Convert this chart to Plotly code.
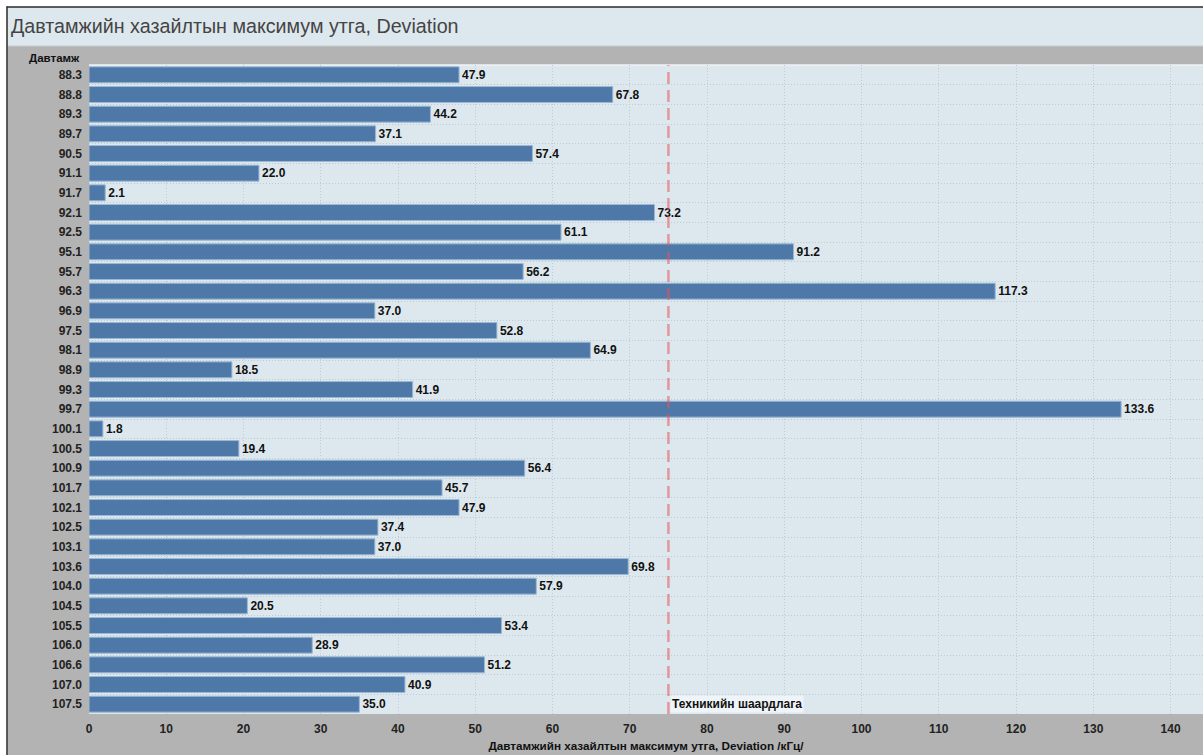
import plotly.graph_objects as go

freqs = ["88.3", "88.8", "89.3", "89.7", "90.5", "91.1", "91.7", "92.1", "92.5", "95.1",
         "95.7", "96.3", "96.9", "97.5", "98.1", "98.9", "99.3", "99.7", "100.1", "100.5",
         "100.9", "101.7", "102.1", "102.5", "103.1", "103.6", "104.0", "104.5", "105.5",
         "106.0", "106.6", "107.0", "107.5"]
deviation = [47.9, 67.8, 44.2, 37.1, 57.4, 22.0, 2.1, 73.2, 61.1, 91.2,
             56.2, 117.3, 37.0, 52.8, 64.9, 18.5, 41.9, 133.6, 1.8, 19.4,
             56.4, 45.7, 47.9, 37.4, 37.0, 69.8, 57.9, 20.5, 53.4,
             28.9, 51.2, 40.9, 35.0]
limit_value = 75
limit_label = "Техникийн шаардлага"
title_text = "Давтамжийн хазайлтын максимум утга, Deviation"
y_title = "Давтамж"
x_title = "Давтамжийн хазайлтын максимум утга, Deviation /кГц/"
x_ticks = list(range(0, 141, 10))

W, H = 1203, 755
L, R, T, B = 89, 0, 65, 41
pw, ph = W - L - R, H - T - B

def px_x(x):
    return (x - L) / pw

def px_y(y):
    return (H - B - y) / ph

FONT = "Liberation Sans, Arial, sans-serif"
GRID = "#c2cad0"

fig = go.Figure()
fig.add_trace(go.Bar(
    y=freqs, x=deviation, orientation="h",
    marker=dict(color="#4e78a8", line=dict(color="#9ab8d6", width=1)),
    texttemplate="%{x:.1f}", textposition="outside",
    textfont=dict(family=FONT, size=12, color="#111", weight="bold"),
    cliponaxis=False, hoverinfo="skip",
))

shapes = [
    # white outer margin strips
    dict(type="rect", xref="paper", yref="paper", x0=px_x(0), x1=px_x(W), y0=px_y(6.5), y1=px_y(0),
         fillcolor="white", line_width=0, layer="below"),
    dict(type="rect", xref="paper", yref="paper", x0=px_x(0), x1=px_x(6.5), y0=px_y(H), y1=px_y(0),
         fillcolor="white", line_width=0, layer="below"),
    # title band
    dict(type="rect", xref="paper", yref="paper", x0=px_x(7.5), x1=px_x(W), y0=px_y(46), y1=px_y(7.5),
         fillcolor="#dde8ee", line_width=0, layer="below"),
    dict(type="line", xref="paper", yref="paper", x0=px_x(7.5), x1=px_x(W), y0=px_y(46), y1=px_y(46),
         line=dict(color="#c6ccd0", width=1), layer="below"),
    # plot top light edge
    dict(type="line", xref="paper", yref="paper", x0=0, x1=1, y0=1, y1=1,
         line=dict(color="#eef3f6", width=1.5), layer="below"),
    # frame lines
    dict(type="line", xref="paper", yref="paper", x0=px_x(6.5), x1=px_x(W), y0=px_y(7), y1=px_y(7),
         line=dict(color="#333", width=1.5), layer="above"),
    dict(type="line", xref="paper", yref="paper", x0=px_x(7), x1=px_x(7), y0=px_y(H), y1=px_y(6.5),
         line=dict(color="#333", width=1.5), layer="above"),
    # limit line
    dict(type="line", xref="x", yref="paper", x0=limit_value, x1=limit_value, y0=0, y1=1,
         line=dict(color="rgba(235,80,90,0.55)", width=2.5, dash="12px,6px"), layer="above"),
]

annotations = [
    dict(text=title_text, xref="paper", yref="paper", x=px_x(9), y=px_y(26),
         xanchor="left", yanchor="middle", showarrow=False,
         font=dict(family=FONT, size=19.7, color="#444")),
    dict(text=y_title, xref="paper", yref="paper", x=px_x(82), y=px_y(58),
         xanchor="right", yanchor="middle", showarrow=False,
         font=dict(family=FONT, size=11.5, color="#111", weight="bold")),
    dict(text=limit_label, xref="x", yref="paper", x=limit_value, y=0,
         xanchor="left", yanchor="bottom", showarrow=False, xshift=2, yshift=1,
         bgcolor="rgba(238,244,247,0.95)", borderpad=1,
         font=dict(family=FONT, size=12, color="#111", weight="bold")),
]

fig.update_layout(
    width=W, height=H,
    margin=dict(l=L, r=R, t=T, b=B, pad=0),
    paper_bgcolor="#b3b3b3", plot_bgcolor="#dde8ee",
    showlegend=False, bargap=0.19,
    shapes=shapes, annotations=annotations,
    font=dict(family=FONT),
    xaxis=dict(range=[0, 144.2], tickvals=x_ticks, showgrid=True,
               gridcolor=GRID, griddash="1px,2px", gridwidth=1,
               zeroline=False, showline=False, ticks="", ticklabelstandoff=6,
               tickfont=dict(family=FONT, size=12, color="#222", weight="bold"),
               title=dict(text=x_title, standoff=6,
                          font=dict(family=FONT, size=11.7, color="#111", weight="bold"))),
    yaxis=dict(type="category", categoryorder="array", categoryarray=freqs,
               autorange="reversed", tickson="boundaries", showgrid=True,
               gridcolor=GRID, griddash="1px,2px", gridwidth=1,
               zeroline=False, showline=False, ticks="", ticklabelstandoff=6,
               tickfont=dict(family=FONT, size=12, color="#222", weight="bold")),
)

fig.write_html(
    "out.html",
    config={"displayModeBar": False},
    post_script="document.body.style.margin='0px';document.body.style.overflow='hidden';",
)
